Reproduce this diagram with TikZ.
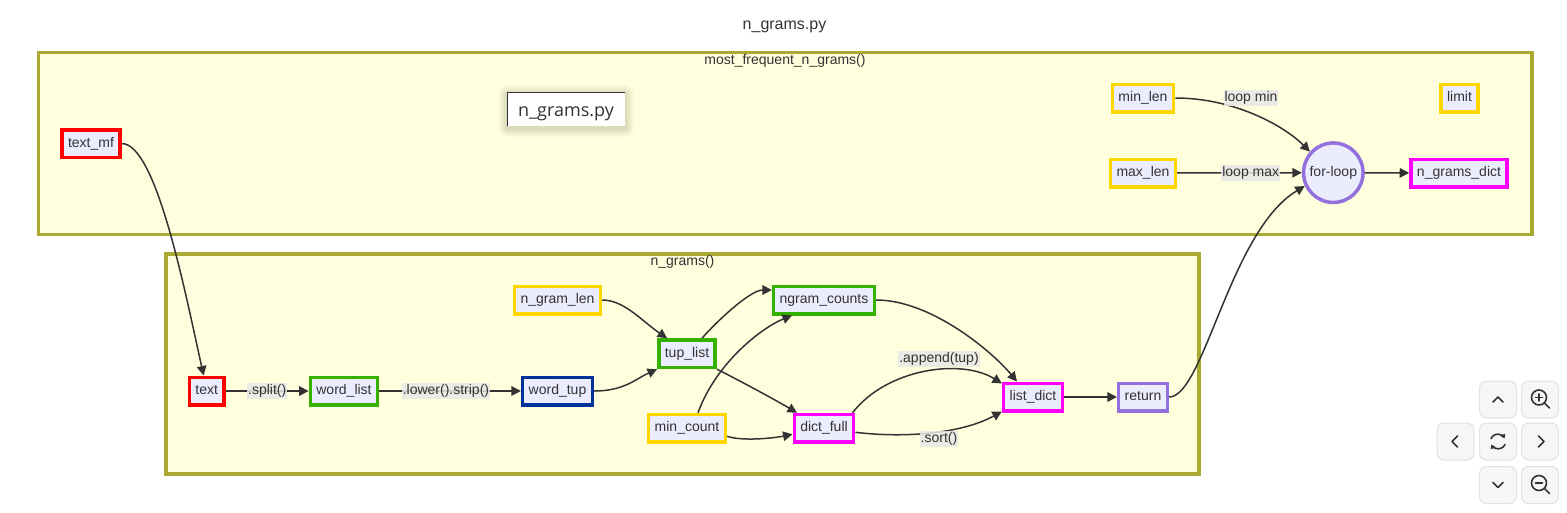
\documentclass[tikz,border=0pt]{standalone}
\usepackage{fontspec}
\setmainfont{Liberation Sans}
\newfontfamily\tipfont{Open Sans}
\usetikzlibrary{arrows.meta}

\definecolor{ink}{HTML}{333333}
\definecolor{nodefill}{HTML}{ECECFF}
\definecolor{clusterfill}{HTML}{FFFFDE}
\definecolor{clusterline}{HTML}{AAAA33}
\definecolor{labelfill}{HTML}{E8E8E8}
\definecolor{redline}{HTML}{FF0000}
\definecolor{goldline}{HTML}{FFD700}
\definecolor{greenline}{HTML}{33B300}
\definecolor{blueline}{HTML}{003399}
\definecolor{pinkline}{HTML}{FF00FF}
\definecolor{purpleline}{HTML}{9370DB}
\definecolor{btnfill}{HTML}{F6F6F6}
\definecolor{btnline}{HTML}{E2E2E2}

\begin{document}
\begin{tikzpicture}[x=1pt, y=-1pt,
    every node/.style={text=ink, font=\fontsize{14}{16}\selectfont},
    var/.style={draw, line width=3.5pt, fill=nodefill, inner xsep=6pt, inner ysep=0pt,
      minimum height=27.5pt, text height=10pt, text depth=3pt},
    redvar/.style={var, draw=redline},
    goldvar/.style={var, draw=goldline},
    greenvar/.style={var, draw=greenline},
    bluevar/.style={var, draw=blueline},
    pinkvar/.style={var, draw=pinkline},
    purplevar/.style={var, draw=purpleline},
    flow/.style={draw=ink, line width=1.5pt, -{Triangle[length=9.5pt, width=9.5pt]}},
    elabel/.style={fill=labelfill, fill opacity=0.85, text opacity=1, inner xsep=1pt,
      inner ysep=1.5pt, text height=10pt, text depth=3pt},
    cluster/.style={draw=clusterline, fill=clusterfill, line width=3.5pt},
    btn/.style={draw=btnline, fill=btnfill, line width=1pt, rounded corners=7pt},
    glyph/.style={draw=black!80, line width=1.6pt, line cap=round, line join=round}]
    \useasboundingbox (0,0) rectangle (1567,512);

    % Title and the two subgraphs
    \node[anchor=base, font=\fontsize{16}{18}\selectfont] (title) at (784.5,29) {n\_grams.py};
    \draw[cluster] (38.5,52.5) rectangle (1532,234.5);
    \draw[cluster] (166,254) rectangle (1199,474);
    \node[anchor=base] (mfgrams) at (785,64) {most\_frequent\_n\_grams()};
    \node[anchor=base] (ngrams) at (682.5,265.5) {n\_grams()};

    % Tooltip box with a soft shadow
    \foreach \s in {1,...,9}
      \fill[black, opacity=0.016, rounded corners=\s pt] (507.3-\s,94.3-\s) rectangle (625+\s,128+\s);
    \fill[white] (507.3,92.3) rectangle (625,126);
    \draw[ink, line width=1pt] (507.3,126) -- (507.3,92.3) -- (625,92.3);
    \node[anchor=base, font=\tipfont\fontsize{18}{20}\selectfont] (tip) at (566,116) {n\_grams.py};

    % Nodes of most_frequent_n_grams()
    \node[redvar] (textmf) at (91,143.5) {text\_mf};
    \node[goldvar] (minlen) at (1143,98) {min\_len};
    \node[goldvar] (maxlen) at (1143,173) {max\_len};
    \node[goldvar] (limit) at (1459.5,98) {limit};
    \node[circle, draw=purpleline, line width=3.5pt, fill=nodefill, minimum size=59.5pt,
      inner sep=0pt] (forloop) at (1333.3,172.7) {for-loop};
    \node[pinkvar] (ngramsdict) at (1459,173) {n\_grams\_dict};

    % Nodes of n_grams()
    \node[redvar] (txt) at (206.7,391) {text};
    \node[greenvar] (wordlist) at (344,391) {word\_list};
    \node[bluevar] (wordtup) at (557.5,391) {word\_tup};
    \node[goldvar] (ngramlen) at (557.5,300) {n\_gram\_len};
    \node[greenvar] (tuplist) at (687,353.7) {tup\_list};
    \node[goldvar] (mincount) at (687,428.3) {min\_count};
    \node[greenvar] (ngramcounts) at (824,300) {ngram\_counts};
    \node[pinkvar] (dictfull) at (824,428.3) {dict\_full};
    \node[pinkvar] (listdict) at (1033,397) {list\_dict};
    \node[purplevar] (ret) at (1143,397) {return};

    % Edges
    \draw[flow] (textmf.east) .. controls +(35,0) and +(-18,-80) .. ([xshift=-3pt]txt.north);
    \draw[flow] (txt) -- node[elabel] (lsplit) {.split()} (wordlist);
    \draw[flow] (wordlist) -- node[elabel, pos=0.47] (llower) {.lower().strip()} (wordtup);
    \draw[flow] (wordtup.east) .. controls +(30,0) and +(-22,10) .. (tuplist.south west);
    \draw[flow] (ngramlen.east) .. controls +(22,0) and +(-25,-17) .. ([xshift=10pt]tuplist.north west);
    \draw[flow] ([xshift=15pt]tuplist.north) .. controls +(14,-16) and +(-22,0) .. ([yshift=10pt]ngramcounts.west);
    \draw[flow] ([xshift=11pt]mincount.north) .. controls +(18,-50) and +(-30,12) .. ([xshift=-32pt]ngramcounts.south);
    \draw[flow] (tuplist.south east) .. controls +(20,10) and +(-20,-12) .. ([xshift=-27pt]dictfull.north);
    \draw[flow] ([yshift=-8pt]mincount.east) .. controls +(15,5) and +(-20,4) .. ([yshift=-6pt]dictfull.west);
    \draw[flow] ([xshift=-3pt]dictfull.north east) .. controls +(35,-45) and +(-40,-25) .. ([yshift=-2pt]listdict.north west);
    \draw[flow] ([yshift=-4pt]dictfull.east) .. controls +(50,6) and +(-40,22) .. ([yshift=1pt]listdict.south west);
    \draw[flow] (ngramcounts.east) .. controls +(55,0) and +(-25,-30) .. ([xshift=-16pt]listdict.north);
    \draw[flow] (listdict) -- (ret);
    \draw[flow] (ret.east) .. controls +(35,0) and +(-75,45) .. (forloop.205);
    \draw[flow] (minlen.east) .. controls +(60,0) and +(-25,-25) .. (forloop.138);
    \draw[flow] (maxlen) -- node[elabel, pos=0.59] (lmax) {loop max} (forloop);
    \draw[flow] (forloop) -- (ngramsdict);

    % Labels on curved edges
    \node[elabel] (lmin) at (1251,97.5) {loop min};
    \node[elabel] (lappend) at (939,358.5) {.append(tup)};
    \node[elabel] (lsort) at (939,439) {.sort()};

    % Zoom controls
    \foreach \bx/\by in {1498/399.5, 1540/399.5, 1455.5/441.5, 1498/441.5, 1540/441.5, 1498/485, 1540/485}
      \draw[btn] (\bx-18.5,\by-18.5) rectangle (\bx+18.5,\by+18.5);
    \draw[glyph] (1493,402) -- (1498,397) -- (1503,402);
    \draw[glyph] (1493,482.5) -- (1498,487.5) -- (1503,482.5);
    \draw[glyph] (1457.5,436) -- (1452,441.5) -- (1457.5,447);
    \draw[glyph] (1538.5,436) -- (1544,441.5) -- (1538.5,447);
    \draw[glyph] (1539,397.5) circle[radius=7.5];
    \draw[glyph] (1544.5,403) -- (1549.5,408);
    \draw[glyph] (1535.5,397.5) -- (1542.5,397.5) (1539,394) -- (1539,401);
    \draw[glyph] (1539,483) circle[radius=7.5];
    \draw[glyph] (1544.5,488.5) -- (1549.5,493.5);
    \draw[glyph] (1535.5,483) -- (1542.5,483);
    \draw[glyph, -{Triangle[length=4pt, width=5pt]}] (1491,438.5) arc[start angle=205, end angle=335, radius=7.5];
    \draw[glyph, -{Triangle[length=4pt, width=5pt]}] (1505,444.5) arc[start angle=25, end angle=155, radius=7.5];
\end{tikzpicture}
\end{document}
